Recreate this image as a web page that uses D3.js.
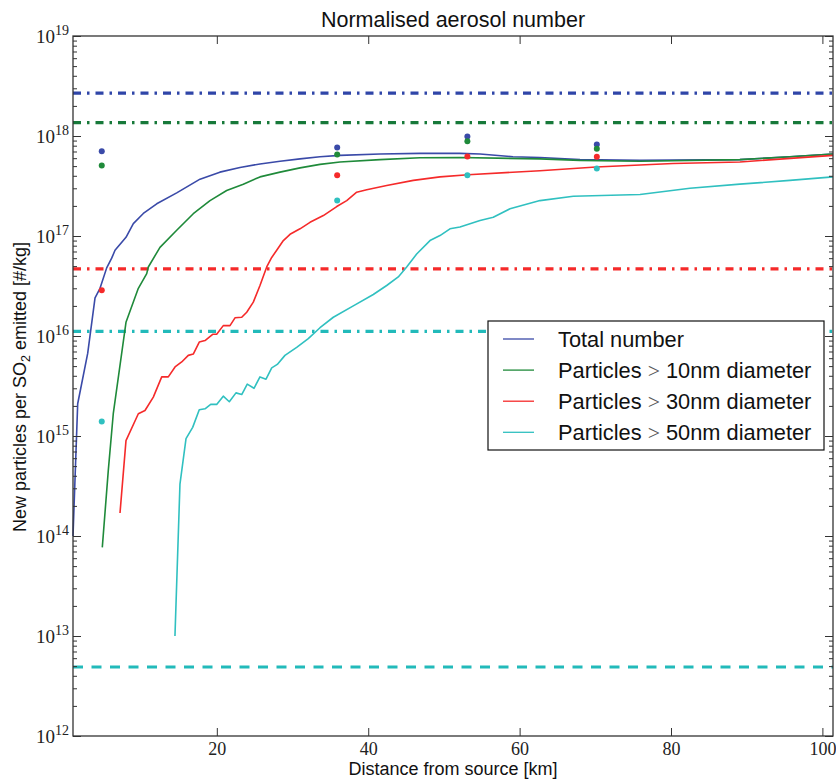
<!DOCTYPE html>
<html>
<head>
<meta charset="utf-8">
<script src="https://cdn.jsdelivr.net/npm/d3@7"></script>
<style>
  body { margin: 0; background: #fff; }
  svg { display: block; }
</style>
</head>
<body>
<div id="chart"></div>
<script>
// Datos (distancia en km, particulas por kg de SO2)
var totalDist = [1, 1.62, 2.94, 3.91, 4.57, 5.45, 6.11, 6.55, 8.0, 8.97, 10.29, 12.06, 14.7, 17.78, 20.4, 23.06, 25.7, 28.35, 30.99, 33.63, 36.27, 41.56, 46.84, 52.12, 54.77, 59.12, 62.69, 67.98, 75.9, 89.1, 95.7, 101.4];
var totalNum  = [1.0e14, 2.1e15, 6.7e15, 2.4e16, 3.0e16, 4.8e16, 6.0e16, 7.2e16, 9.7e16, 1.33e17, 1.68e17, 2.1e17, 2.7e17, 3.7e17, 4.35e17, 4.85e17, 5.25e17, 5.6e17, 5.9e17, 6.2e17, 6.4e17, 6.6e17, 6.7e17, 6.7e17, 6.6e17, 6.2e17, 6.1e17, 5.8e17, 5.7e17, 5.8e17, 6.2e17, 6.6e17];

var n10Dist = [4.87, 5.66, 6.32, 8.0, 9.63, 10.74, 10.95, 12.49, 14.7, 16.89, 19.1, 21.3, 23.5, 25.7, 28.35, 30.99, 33.63, 36.27, 41.56, 46.84, 52.12, 62.69, 67.98, 75.9, 89.1, 95.7, 101.4];
var n10Num  = [7.7e13, 4.5e14, 1.67e15, 1.37e16, 3.0e16, 4.2e16, 4.9e16, 7.7e16, 1.14e17, 1.67e17, 2.26e17, 2.85e17, 3.3e17, 3.9e17, 4.35e17, 4.8e17, 5.2e17, 5.5e17, 5.8e17, 6.05e17, 6.1e17, 5.9e17, 5.7e17, 5.6e17, 5.8e17, 6.2e17, 6.6e17];

var n30Dist = [7.21, 8.0, 9.63, 10.51, 11.61, 12.72, 13.59, 14.48, 15.36, 16.23, 16.89, 17.68, 18.44, 19.45, 19.98, 20.85, 21.74, 22.4, 23.29, 23.95, 24.82, 25.7, 26.59, 27.25, 27.91, 28.79, 29.67, 30.99, 32.31, 34.07, 35.84, 37.16, 38.48, 39.8, 42.44, 45.96, 49.48, 53.18, 62.69, 70.1, 80.26, 89.1, 101.4];
var n30Num  = [1.7e14, 9.0e14, 1.67e15, 1.8e15, 2.45e15, 3.9e15, 3.9e15, 4.9e15, 5.5e15, 6.4e15, 6.6e15, 8.7e15, 9.0e15, 1.04e16, 1.04e16, 1.27e16, 1.27e16, 1.52e16, 1.54e16, 1.73e16, 2.18e16, 3.2e16, 4.9e16, 6.1e16, 7.2e16, 9.0e16, 1.04e17, 1.18e17, 1.37e17, 1.6e17, 1.97e17, 2.26e17, 2.74e17, 2.9e17, 3.2e17, 3.6e17, 3.9e17, 4.1e17, 4.5e17, 4.9e17, 5.3e17, 5.5e17, 6.4e17];

var n50Dist = [14.47, 15.13, 15.93, 16.81, 17.68, 18.44, 19.19, 19.98, 20.85, 21.65, 22.53, 23.29, 24.02, 24.91, 25.7, 26.5, 27.25, 27.99, 29.0, 30.55, 32.08, 33.63, 35.39, 38.03, 40.67, 42.44, 43.97, 45.08, 46.4, 48.16, 49.48, 50.8, 52.12, 54.77, 56.52, 58.73, 62.69, 67.09, 75.9, 82.5, 89.1, 95.7, 101.4];
var n50Num  = [1.0e13, 3.3e14, 9.4e14, 1.22e15, 1.83e15, 1.87e15, 2.07e15, 2.07e15, 2.5e15, 2.2e15, 2.7e15, 2.6e15, 3.3e15, 3.0e15, 3.9e15, 3.7e15, 4.8e15, 5.2e15, 6.4e15, 7.7e15, 9.4e15, 1.21e16, 1.54e16, 2.0e16, 2.6e16, 3.2e16, 3.9e16, 4.9e16, 6.6e16, 9.0e16, 1.01e17, 1.18e17, 1.23e17, 1.43e17, 1.54e17, 1.87e17, 2.26e17, 2.5e17, 2.6e17, 3.0e17, 3.3e17, 3.6e17, 3.9e17];

// Medidas puntuales
var obsDist  = [4.8, 35.9, 53.1, 70.2];
var obsTotal = [7.05e17, 7.67e17, 9.9e17, 8.2e17];
var obs10    = [5.07e17, 6.53e17, 8.87e17, 7.45e17];
var obs30    = [2.87e16, 4.06e17, 6.24e17, 6.2e17];
var obs50    = [1.4e15, 2.26e17, 4.06e17, 4.73e17];

// Lineas horizontales de referencia
var refTotal = 2.68e18;
var ref10 = 1.36e18;
var ref30 = 4.7e16;
var ref50 = 1.11e16;
var ref50Low = 4.9e12;

var seriesNames = ["Total number", "Particles > 10nm diameter", "Particles > 30nm diameter", "Particles > 50nm diameter"];
var seriesColors = ["#3a4aa8", "#1f8a3a", "#f52a2a", "#30c0c0"];
var xTicks = [20, 40, 60, 80, 100];
var yDecades = [1e12, 1e13, 1e14, 1e15, 1e16, 1e17, 1e18, 1e19];

//Crea Lienzo
var width = 836;
var height = 779;
var plotLeft = 73, plotRight = 833, plotTop = 36, plotBottom = 736;

var svg = d3.select("#chart")
            .append("svg")
            .attr("width", width)
            .attr("height", height)
            .style("font-family", "'Liberation Sans', Arial, sans-serif");

var x = d3.scaleLinear().domain([1, 101.4]).range([plotLeft, plotRight]);
var y = d3.scaleLog().domain([1e12, 1e19]).range([plotBottom, plotTop]);

var minorTicks = [];
yDecades.slice(0, -1).forEach(function (d) {
    for (var m = 2; m <= 9; m++) minorTicks.push(d * m);
});

var plot = svg.append("g");

//Lineas de referencia
var refs = [
    {v: refTotal, c: "#2f45a8", dash: "8,6,2.5,6"},
    {v: ref10, c: "#17793a", dash: "8,6,2.5,6"},
    {v: ref30, c: "#f52a2a", dash: "8,6,2.5,6"},
    {v: ref50, c: "#22baba", dash: "8,6,2.5,6"},
    {v: ref50Low, c: "#22baba", dash: "10,8.5"}
];
plot.selectAll("line.ref")
    .data(refs)
    .enter()
    .append("line")
    .attr("class", "ref")
    .attr("x1", plotLeft)
    .attr("x2", plotRight)
    .attr("y1", d => y(d.v))
    .attr("y2", d => y(d.v))
    .attr("stroke", d => d.c)
    .attr("stroke-width", 3.2)
    .attr("stroke-dasharray", d => d.dash);

//Curvas
var curves = [
    {xs: totalDist, ys: totalNum},
    {xs: n10Dist, ys: n10Num},
    {xs: n30Dist, ys: n30Num},
    {xs: n50Dist, ys: n50Num}
];
var line = d3.line()
    .x(d => x(d[0]))
    .y(d => y(d[1]));

plot.selectAll("path.curve")
    .data(curves)
    .enter()
    .append("path")
    .attr("class", "curve")
    .attr("fill", "none")
    .attr("stroke", (d, i) => seriesColors[i])
    .attr("stroke-width", 1.6)
    .attr("stroke-linejoin", "round")
    .attr("d", d => line(d.xs.map((v, i) => [v, d.ys[i]])));

//Puntos medidos
var obsSets = [obsTotal, obs10, obs30, obs50];
obsSets.forEach(function (vals, k) {
    plot.selectAll("circle.obs" + k)
        .data(vals)
        .enter()
        .append("circle")
        .attr("cx", (d, i) => x(obsDist[i]))
        .attr("cy", d => y(d))
        .attr("r", 3)
        .attr("fill", seriesColors[k]);
});

//Ejes
var axisColor = "#333";
var serif = "'Liberation Serif', 'DejaVu Serif', serif";

function styleAxis(g) {
    g.select(".domain").remove();
    g.selectAll(".tick line").attr("stroke", axisColor).attr("stroke-width", 1);
}

svg.append("g")
    .attr("transform", "translate(0," + plotBottom + ")")
    .call(d3.axisBottom(x).tickValues(xTicks).tickSize(-8).tickPadding(6).tickFormat(d3.format("d")))
    .call(styleAxis)
    .selectAll("text")
    .attr("fill", "#222")
    .style("font-family", serif)
    .style("font-size", "18px");

svg.append("g")
    .attr("transform", "translate(0," + plotTop + ")")
    .call(d3.axisTop(x).tickValues(xTicks).tickSize(-8).tickFormat(""))
    .call(styleAxis);

var yLeft = svg.append("g")
    .attr("transform", "translate(" + plotLeft + ",0)")
    .call(d3.axisLeft(y).tickValues(yDecades).tickSize(-8).tickFormat(() => "10"))
    .call(styleAxis);
yLeft.selectAll(".tick text")
    .attr("fill", "#222")
    .attr("dy", "0.35em")
    .attr("x", -4)
    .style("font-family", serif)
    .style("font-size", "19px")
    .append("tspan")
    .attr("dy", "-0.6em")
    .style("font-size", "14px")
    .text(d => Math.round(Math.log10(d)));

svg.append("g")
    .attr("transform", "translate(" + plotLeft + ",0)")
    .call(d3.axisLeft(y).tickValues(minorTicks).tickSize(-4).tickFormat(""))
    .call(styleAxis);

svg.append("g")
    .attr("transform", "translate(" + plotRight + ",0)")
    .call(d3.axisRight(y).tickValues(yDecades).tickSize(-8).tickFormat(""))
    .call(styleAxis);

svg.append("g")
    .attr("transform", "translate(" + plotRight + ",0)")
    .call(d3.axisRight(y).tickValues(minorTicks).tickSize(-4).tickFormat(""))
    .call(styleAxis);

//Marco
svg.append("rect")
    .attr("x", plotLeft)
    .attr("y", plotTop)
    .attr("width", plotRight - plotLeft)
    .attr("height", plotBottom - plotTop)
    .attr("fill", "none")
    .attr("stroke", axisColor)
    .attr("stroke-width", 1.3);

//Leyenda
var legend = svg.append("g").attr("transform", "translate(488,321)");
legend.append("rect")
    .attr("width", 336)
    .attr("height", 129)
    .attr("fill", "#fff")
    .attr("stroke", "#111")
    .attr("stroke-width", 1.2);

var rows = legend.selectAll("g.row")
    .data(seriesNames)
    .enter()
    .append("g")
    .attr("class", "row")
    .attr("transform", (d, i) => "translate(0," + (18 + i * 31.1) + ")");

rows.append("line")
    .attr("x1", 15)
    .attr("x2", 46)
    .attr("stroke", (d, i) => seriesColors[i])
    .attr("stroke-width", 1.3);

var legendText = rows.append("text")
    .attr("x", 70)
    .attr("y", 7.5)
    .style("font-size", "21.8px")
    .attr("fill", "#111");
legendText.each(function (d) {
    var t = d3.select(this);
    var parts = d.split(">");
    t.append("tspan").text(parts[0]);
    if (parts.length > 1) {
        t.append("tspan").style("font-family", serif).attr("fill", "#555").text(">");
        t.append("tspan").text(parts[1]);
    }
});

//Titulos
svg.append("text")
    .attr("x", (plotLeft + plotRight) / 2)
    .attr("y", 27)
    .attr("text-anchor", "middle")
    .style("font-size", "21.5px")
    .attr("fill", "#111")
    .text("Normalised aerosol number");

svg.append("text")
    .attr("x", (plotLeft + plotRight) / 2)
    .attr("y", 775)
    .attr("text-anchor", "middle")
    .style("font-size", "18px")
    .attr("fill", "#111")
    .text("Distance from source [km]");

var yTitle = svg.append("text")
    .attr("transform", "translate(26,387) rotate(-90)")
    .attr("text-anchor", "middle")
    .style("font-size", "18px")
    .attr("fill", "#111");
yTitle.append("tspan").text("New particles per SO");
yTitle.append("tspan").attr("dy", 4).style("font-size", "12.5px").text("2");
yTitle.append("tspan").attr("dy", -4).text(" emitted [#/kg]");
</script>
</body>
</html>
